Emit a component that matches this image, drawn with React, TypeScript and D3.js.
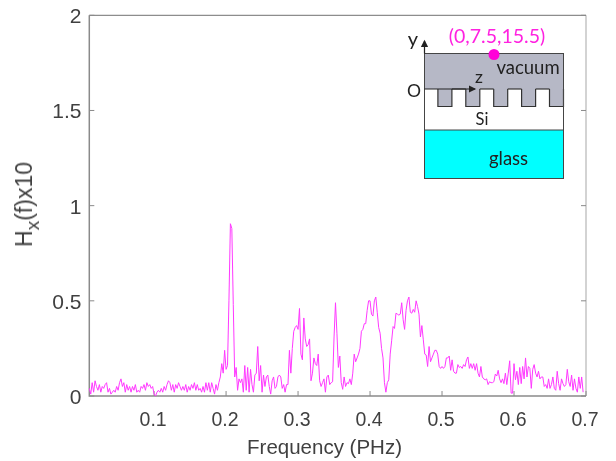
import React from "react";
import * as d3 from "d3";

const FREQ_START = 0.01;
const FREQ_STEP = 0.002;
const hxBaseline = [.04,.01,.07,.02,.08,.05,.03,.06,.02,.05,.04,.06,.07,.02,.04,.01,.02,.03,.02,.05,.03,.07,.09,.05,.07,.02,.06,.03,.05,.02,.05,.03,.06,.02,.03,.02,.05,.04,.06,.03,.07,.05,.06,.04,.05,.01,0,.02,.03,.02,.04,.02,.05,.03,.06,.08,.07,.03,.06,.02,.06,.04,.07,.05,.03,.05,.03,.06,.02,.05,.03,.06,.04,.07,.03,.06,.03,.04,.02,.05,.02,.07,.03,.07,.02,.07,.04,.01,.06,.03,.07];
const hxMainPeak = [.1,.17,.12,.24,.14,.16,.5,.905,.88,.48];
const hxMiddle = [.1,.15,.03,.09,.07,.09,.02,.16,.03,.15,.02,.14,.06,.02,.11,.12,.26,.08,.16,.02,.11,.05,.1,.11,.05,.01,.08,.1,.04,.05,.1,.11,.1,.04,.06,.02,.06,.06,.24,.12,.25,.34,.36,.37,.35,.46,.22,.19,.41,.3,.26,.27,.3,.08,.12,.2,.17,.16,.22,.08,.05,.07,.09,.02,.1];
const hxBroadPeaks = [.11,.06,.07,.075,.31,.49,.33,.15,.21,.07,.035,.1,.05,.07,.065,.09,.06,.12,.22,.18,.2,.22,.25,.34,.35,.38,.38,.45,.5,.5,.43,.42,.5,.52,.44,.36,.33,.25,.2,.07,.02,.07,.085,.22,.29,.365,.355,.435,.43,.425,.43,.49,.4,.35,.45,.5,.52,.44,.435,.455,.44,.5,.47,.43,.31,.37,.295,.22,.215,.155,.26,.18,.2,.22,.24,.24,.22,.155,.145,.155,.145,.155,.2,.2,.21,.135,.19,.13,.12,.12,.165,.15,.155,.145,.165,.155,.19,.205,.145,.17,.145,.17,.135,.17,.12,.1,.155,.1,.09,.085,.09,.06,.075,.07,.07,.075,.115,.105,.135,.09,.07,.09,.065,.12,.06,.12,.185,.015,.015,.17,.085,.13,.06,.15,.065,.155,.09,.2,.1,.155,.145,.04,.14,.165,.12,.1,.13,.09,.1,.1,.05,.06,.04,.09,.04,.06,.1,.04,.03,.13,.065,.03,.09,.065,.05,.06,.14,.075,.05,.11,.03,.09,.04,.02,.1,.04,.1,.02];

const hxValues = [...hxBaseline, ...hxMainPeak, ...hxMiddle, ...hxBroadPeaks];
const xTicks = [0.1, 0.2, 0.3, 0.4, 0.5, 0.6, 0.7];
const yTicks = [0, 0.5, 1, 1.5, 2];
const LINE = "#ff38ff";
const AXIS = "#8a8a8a";
const TEXT = "#404040";
const FONT = "'Liberation Sans', Arial, sans-serif";
const INSET_FONT = "Lato, sans-serif";

const toothStarts = [0, 1, 2, 3, 4];

export default function App() {
  const x = d3.scaleLinear().domain([0.01, 0.7]).range([89.3, 586]);
  const y = d3.scaleLinear().domain([0, 2]).range([396, 15.3]);
  const line = d3
    .line<number>()
    .x((_, i) => x(Math.min(0.7, FREQ_START + i * FREQ_STEP)))
    .y((d) => y(d));

  // inset geometry
  const L = 424.5, R = 563.5, T = 53.5, G = 89, B = 106.5, S = 130, E = 178.5;
  const pitch = 27.9;
  return (
    <svg width={616} height={461} style={{ position: "absolute", left: 0, top: 0 }} fontFamily={FONT}>
      <defs>
        <filter id="soft" x="-2%" y="-2%" width="104%" height="104%">
          <feGaussianBlur stdDeviation="0.35" />
        </filter>
        <marker id="ah" markerWidth="7" markerHeight="7" refX="5" refY="3" orient="auto">
          <path d="M0,0 L6,3 L0,6 Z" fill="#222" />
        </marker>
      </defs>
      <rect width={616} height={461} fill="#fff" />
      <g filter="url(#soft)">
        <line x1={586} x2={586} y1={15.3} y2={396} stroke="#c4c4c4" strokeWidth={1.5} />
        <path d={`M${x.range()[0]},${y.range()[1]}H${x.range()[1]}`} fill="none" stroke="#707070" strokeWidth={1} />
        <path d={`M${x.range()[0]},${y.range()[1]}V${y.range()[0]}H${x.range()[1]}`} fill="none" stroke={AXIS} strokeWidth={1.5} />
        {xTicks.map((t) => (
          <g key={t}>
            <line x1={x(t)} x2={x(t)} y1={396} y2={391} stroke={AXIS} strokeWidth={1} />
            <text x={x(t) - 1} y={425.5} textAnchor="middle" fontSize={19.5} fill={TEXT}>{t}</text>
          </g>
        ))}
        {yTicks.map((t) => (
          <g key={t}>
            <line x1={89.3} x2={94.3} y1={y(t)} y2={y(t)} stroke={AXIS} strokeWidth={1} />
            <line x1={581} x2={586} y1={y(t)} y2={y(t)} stroke={AXIS} strokeWidth={1} />
            <text x={81.5} y={y(t) + 8} textAnchor="end" fontSize={21} fill={TEXT}>{t}</text>
          </g>
        ))}
        <text x={324.5} y={454} textAnchor="middle" fontSize={20.5} fill={TEXT}>Frequency (PHz)</text>
        <text transform="translate(32,204.5) rotate(-90)" textAnchor="middle" fontSize={23} fill={TEXT}>
          H<tspan dy={7} fontSize={19}>x</tspan><tspan dy={-7}>(f)x10</tspan>
        </text>
        <path d={line(hxValues) ?? ""} fill="none" stroke={LINE} strokeWidth={1} strokeLinejoin="round" />

        <rect x={L} y={T} width={R - L} height={G - T} fill="#b6b8c6" />
        <rect x={L} y={G} width={R - L} height={S - G} fill="#fff" />
        <rect x={L} y={S} width={R - L} height={E - S} fill="#00ffff" />
        {toothStarts.map((k) => {
          const tx = L + 13.4 + k * pitch;
          return (
            <g key={k}>
              <rect x={tx} y={G} width={14} height={B - G} fill="#b6b8c6" />
              <path d={`M${tx},${G}V${B}H${Math.min(tx + 14, R)}V${G}`} fill="none" stroke="#333" strokeWidth={1.2} />
              {k < 4 && <path d={`M${tx + 14},${G}H${tx + pitch}`} stroke="#333" strokeWidth={1.2} />}
            </g>
          );
        })}
        <rect x={L} y={T} width={R - L} height={E - T} fill="none" stroke="#444" strokeWidth={1} />
        <line x1={L} x2={R} y1={S} y2={S} stroke="#444" strokeWidth={1} />
        <line x1={L} x2={L} y1={T} y2={41} stroke="#222" strokeWidth={1.2} markerEnd="url(#ah)" />
        <line x1={L} x2={475} y1={89} y2={89} stroke="#222" strokeWidth={1.2} markerEnd="url(#ah)" />
        <circle cx={494} cy={54.5} r={5.5} fill="#ff00d8" />
        <g fontFamily={INSET_FONT} fill="#222" textAnchor="middle">
          <text x={497} y={43} fontSize={19.5} fill="#ff20e0">(0,7.5,15.5)</text>
          <text x={528} y={74} fontSize={18.5}>vacuum</text>
          <text x={508.5} y={165} fontSize={18.5}>glass</text>
          <text x={482} y={125} fontSize={16.5}>Si</text>
          <text x={479} y={83} fontSize={17.5}>z</text>
          <text x={413} y={46} fontSize={20}>y</text>
          <text x={414} y={97} fontSize={17.5}>O</text>
        </g>
      </g>
    </svg>
  );
}
